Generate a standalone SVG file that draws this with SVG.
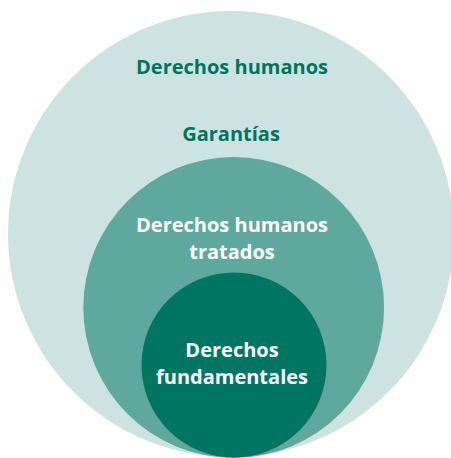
<svg xmlns="http://www.w3.org/2000/svg" width="451" height="458" viewBox="0 0 451 458">
<style>
.t{font-family:"Open Sans","Noto Sans",sans-serif;font-weight:bold;font-size:20px;text-anchor:middle}
.d{fill:#007462}
.w{fill:#ffffff}
</style>
<rect width="451" height="458" fill="#ffffff"/>
<g id="derechos-humanos">
<circle cx="231" cy="234" r="223" fill="#cde3e1"/>
<text class="t d" x="232" y="74">Derechos humanos</text>
</g>
<g id="garantias">
<text class="t d" x="231" y="141">Garantías</text>
</g>
<g id="derechos-humanos-tratados">
<circle cx="233.7" cy="307.5" r="150.4" fill="#5fa89e"/>
<text class="t w" x="232" y="232">Derechos humanos</text>
<text class="t w" x="232" y="259">tratados</text>
</g>
<g id="derechos-fundamentales">
<circle cx="234" cy="365" r="92.5" fill="#007562"/>
<text class="t w" x="232" y="357">Derechos</text>
<text class="t w" x="232" y="384">fundamentales</text>
</g>
<g id="connectors"/>
</svg>
